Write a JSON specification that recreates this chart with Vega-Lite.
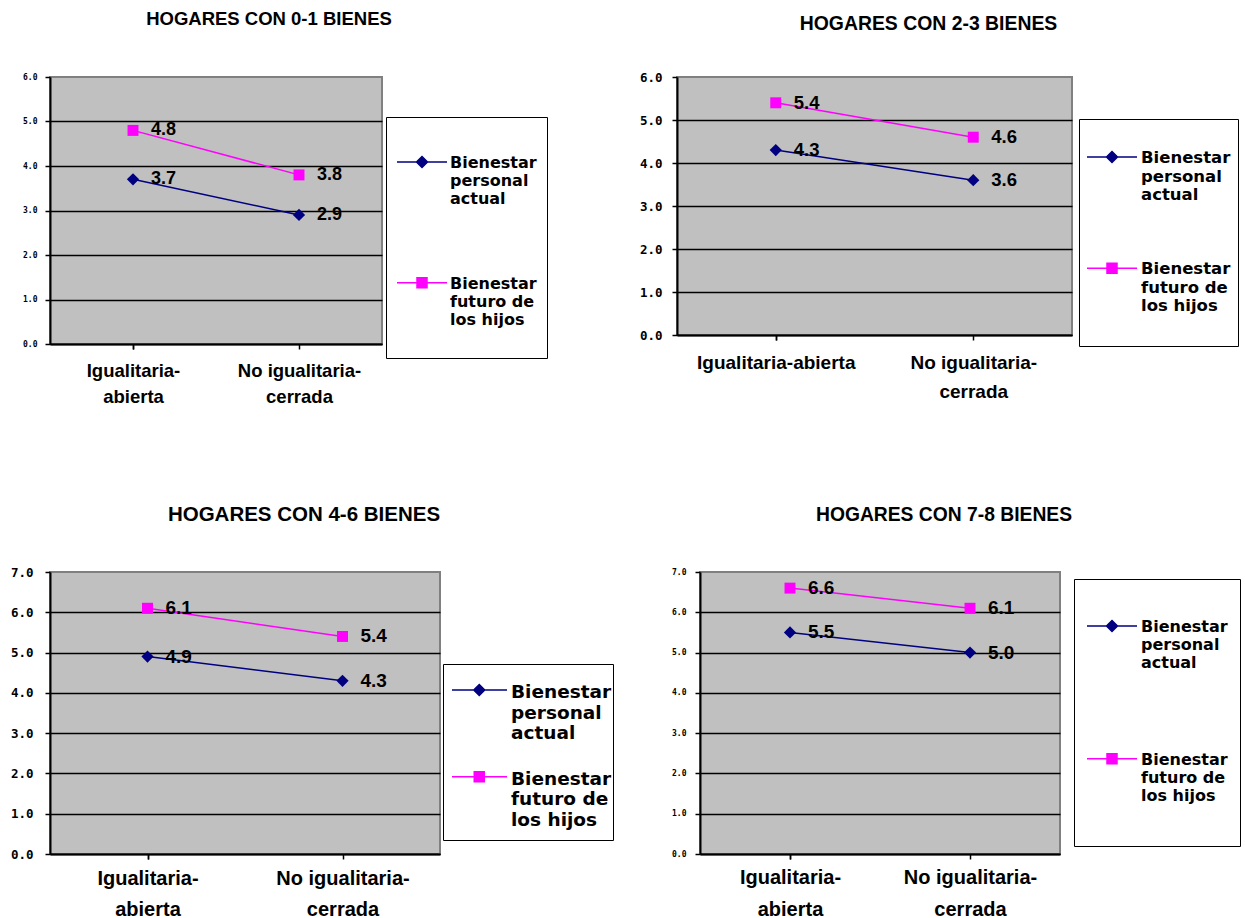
{
  "$schema": "https://vega.github.io/schema/vega-lite/v6.json",
  "background": "white",
  "padding": {"left": 0, "top": 8, "right": 0, "bottom": 0},
  "config": {
    "font": "Liberation Sans",
    "view": {"fill": "#C0C0C0", "stroke": "#808080", "strokeWidth": 2},
    "axis": {"domainColor": "black", "domainWidth": 2, "tickColor": "black", "tickWidth": 1.5, "tickSize": 5, "labelColor": "black", "labelFontWeight": "bold", "gridColor": "black", "gridWidth": 1.5},
    "axisX": {"grid": false, "labelFont": "Liberation Sans", "labelAngle": 0, "labelLimit": 400, "tickBand": "extent"},
    "axisY": {"grid": true, "labelFont": "DejaVu Sans Mono"},
    "title": {"font": "Liberation Sans", "fontSize": 18.5, "fontWeight": "bold", "color": "black", "anchor": "middle", "frame": "group"},
    "legend": {"orient": "none", "strokeColor": "black", "fillColor": "white", "padding": 10, "labelFont": "DejaVu Sans", "labelFontWeight": "bold", "labelColor": "black", "labelBaseline": "top", "labelLimit": 400, "symbolSize": 2500}
  },
  "data": {"values": [
    {"panel": 1, "grupo": "Igualitaria-abierta", "serie": "Bienestar personal actual", "valor": 3.7},
    {"panel": 1, "grupo": "No igualitaria-cerrada", "serie": "Bienestar personal actual", "valor": 2.9},
    {"panel": 1, "grupo": "Igualitaria-abierta", "serie": "Bienestar futuro de los hijos", "valor": 4.8},
    {"panel": 1, "grupo": "No igualitaria-cerrada", "serie": "Bienestar futuro de los hijos", "valor": 3.8},
    {"panel": 2, "grupo": "Igualitaria-abierta", "serie": "Bienestar personal actual", "valor": 4.3},
    {"panel": 2, "grupo": "No igualitaria-cerrada", "serie": "Bienestar personal actual", "valor": 3.6},
    {"panel": 2, "grupo": "Igualitaria-abierta", "serie": "Bienestar futuro de los hijos", "valor": 5.4},
    {"panel": 2, "grupo": "No igualitaria-cerrada", "serie": "Bienestar futuro de los hijos", "valor": 4.6},
    {"panel": 3, "grupo": "Igualitaria-abierta", "serie": "Bienestar personal actual", "valor": 4.9},
    {"panel": 3, "grupo": "No igualitaria-cerrada", "serie": "Bienestar personal actual", "valor": 4.3},
    {"panel": 3, "grupo": "Igualitaria-abierta", "serie": "Bienestar futuro de los hijos", "valor": 6.1},
    {"panel": 3, "grupo": "No igualitaria-cerrada", "serie": "Bienestar futuro de los hijos", "valor": 5.4},
    {"panel": 4, "grupo": "Igualitaria-abierta", "serie": "Bienestar personal actual", "valor": 5.5},
    {"panel": 4, "grupo": "No igualitaria-cerrada", "serie": "Bienestar personal actual", "valor": 5.0},
    {"panel": 4, "grupo": "Igualitaria-abierta", "serie": "Bienestar futuro de los hijos", "valor": 6.6},
    {"panel": 4, "grupo": "No igualitaria-cerrada", "serie": "Bienestar futuro de los hijos", "valor": 6.1}
  ]},
  "columns": 1,
  "align": "none",
  "spacing": 97,
  "resolve": {"scale": {"color": "independent"}, "legend": {"color": "independent"}},
  "concat": [
    {
      "columns": 2,
      "align": "none",
      "spacing": 88,
      "resolve": {"scale": {"color": "independent"}, "legend": {"color": "independent"}},
      "concat": [
        {
          "width": 332, "height": 267,
          "title": {"text": "HOGARES CON 0-1 BIENES", "dx": 53, "offset": 45},
          "transform": [{"filter": "datum.panel == 1"}],
          "encoding": {
            "x": {"field": "grupo", "type": "nominal", "sort": ["Igualitaria-abierta", "No igualitaria-cerrada"], "scale": {"paddingInner": 0, "paddingOuter": 0},
              "axis": {"title": null, "labelFontSize": 18.5, "labelLineHeight": 26, "labelPadding": 12, "labelExpr": "!datum.label ? '' : [split(datum.label, '-')[0] + '-', split(datum.label, '-')[1]]"}},
            "y": {"field": "valor", "type": "quantitative", "scale": {"domain": [0, 6]},
              "axis": {"title": null, "values": [0, 1, 2, 3, 4, 5, 6], "format": ".1f", "labelFontSize": 8, "labelPadding": 8, "minExtent": 49, "gridOpacity": {"condition": {"test": "datum.value >= 6", "value": 0}, "value": 1}}},
            "color": {"field": "serie", "type": "nominal", "scale": {"domain": ["Bienestar personal actual", "Bienestar futuro de los hijos"], "range": ["#000080", "#FF00FF"]},
              "legend": {"legendX": 336, "legendY": 40, "padding": 10, "title": null, "labelFontSize": 16, "labelLineHeight": 18.5, "rowPadding": 40.8, "labelOffset": 2,
                "encode": {
                  "symbols": {"update": {
                    "shape": {"signal": "datum.value == 'Bienestar personal actual' ? 'M-1,0H1M0,-0.22L0.22,0L0,0.22L-0.22,0Z' : 'M0,2.45M-1,0H1M-0.2,-0.2H0.2V0.2H-0.2Z'"},
                    "fill": {"signal": "datum.value == 'Bienestar personal actual' ? '#000080' : '#FF00FF'"},
                    "stroke": {"signal": "datum.value == 'Bienestar personal actual' ? '#000080' : '#FF00FF'"},
                    "strokeWidth": {"value": 1.5},
                    "opacity": {"value": 1},
                    "y": {"value": 35}
                  }},
                  "labels": {"update": {
                    "text": {"signal": "datum.label == 'Bienestar personal actual' ? ['Bienestar', 'personal', 'actual'] : ['Bienestar', 'futuro de', 'los hijos']"},
                    "y": {"value": 35},
                    "dy": {"value": -7}
                  }}
                }}}
          },
          "layer": [
            {"mark": {"type": "line", "strokeWidth": 1.5}},
            {"transform": [{"filter": "datum.serie == 'Bienestar personal actual'"}], "mark": {"type": "point", "shape": "diamond", "filled": true, "size": 150, "opacity": 1}},
            {"transform": [{"filter": "datum.serie == 'Bienestar futuro de los hijos'"}], "mark": {"type": "point", "shape": "square", "filled": true, "size": 120, "opacity": 1}},
            {"mark": {"type": "text", "align": "left", "baseline": "middle", "dx": 18, "fontSize": 18, "fontWeight": "bold", "font": "Liberation Sans"},
              "encoding": {"text": {"field": "valor", "type": "quantitative", "format": ".1f"}, "color": {"value": "black"}}}
          ]
        },
        {
          "width": 395, "height": 258,
          "title": {"text": "HOGARES CON 2-3 BIENES", "dx": 54, "offset": 36.5, "fontSize": 19.4},
          "transform": [{"filter": "datum.panel == 2"}],
          "encoding": {
            "x": {"field": "grupo", "type": "nominal", "sort": ["Igualitaria-abierta", "No igualitaria-cerrada"], "scale": {"paddingInner": 0, "paddingOuter": 0},
              "axis": {"title": null, "labelFontSize": 19, "labelLineHeight": 29, "labelPadding": 13, "labelExpr": "!datum.label ? '' : (datum.label == 'Igualitaria-abierta' ? 'Igualitaria-abierta' : ['No igualitaria-', 'cerrada'])"}},
            "y": {"field": "valor", "type": "quantitative", "scale": {"domain": [0, 6]},
              "axis": {"title": null, "values": [0, 1, 2, 3, 4, 5, 6], "format": ".1f", "labelFontSize": 12.5, "labelPadding": 10, "minExtent": 39, "gridOpacity": {"condition": {"test": "datum.value >= 6", "value": 0}, "value": 1}}},
            "color": {"field": "serie", "type": "nominal", "scale": {"domain": ["Bienestar personal actual", "Bienestar futuro de los hijos"], "range": ["#000080", "#FF00FF"]},
              "legend": {"legendX": 402, "legendY": 42, "padding": 7, "title": null, "labelFontSize": 16.5, "labelLineHeight": 20.5, "rowPadding": 33.2, "labelOffset": 3,
                "encode": {
                  "symbols": {"update": {
                    "shape": {"signal": "datum.value == 'Bienestar personal actual' ? 'M-1,0H1M0,-0.22L0.22,0L0,0.22L-0.22,0Z' : 'M0,2.68M-1,0H1M-0.2,-0.2H0.2V0.2H-0.2Z'"},
                    "fill": {"signal": "datum.value == 'Bienestar personal actual' ? '#000080' : '#FF00FF'"},
                    "stroke": {"signal": "datum.value == 'Bienestar personal actual' ? '#000080' : '#FF00FF'"},
                    "strokeWidth": {"value": 1.5},
                    "opacity": {"value": 1},
                    "y": {"value": 31}
                  }},
                  "labels": {"update": {
                    "text": {"signal": "datum.label == 'Bienestar personal actual' ? ['Bienestar', 'personal', 'actual'] : ['Bienestar', 'futuro de', 'los hijos']"},
                    "y": {"value": 31},
                    "dy": {"value": -7}
                  }}
                }}}
          },
          "layer": [
            {"mark": {"type": "line", "strokeWidth": 1.5}},
            {"transform": [{"filter": "datum.serie == 'Bienestar personal actual'"}], "mark": {"type": "point", "shape": "diamond", "filled": true, "size": 150, "opacity": 1}},
            {"transform": [{"filter": "datum.serie == 'Bienestar futuro de los hijos'"}], "mark": {"type": "point", "shape": "square", "filled": true, "size": 120, "opacity": 1}},
            {"mark": {"type": "text", "align": "left", "baseline": "middle", "dx": 18, "fontSize": 18.5, "fontWeight": "bold", "font": "Liberation Sans"},
              "encoding": {"text": {"field": "valor", "type": "quantitative", "format": ".1f"}, "color": {"value": "black"}}}
          ]
        }
      ]
    },
    {
      "columns": 2,
      "align": "none",
      "spacing": 52,
      "resolve": {"scale": {"color": "independent"}, "legend": {"color": "independent"}},
      "concat": [
        {
          "width": 390, "height": 282,
          "title": {"text": "HOGARES CON 4-6 BIENES", "dx": 59, "offset": 40.5, "fontSize": 20.5},
          "transform": [{"filter": "datum.panel == 3"}],
          "encoding": {
            "x": {"field": "grupo", "type": "nominal", "sort": ["Igualitaria-abierta", "No igualitaria-cerrada"], "scale": {"paddingInner": 0, "paddingOuter": 0},
              "axis": {"title": null, "labelFontSize": 20, "labelLineHeight": 31, "labelPadding": 9, "labelExpr": "!datum.label ? '' : [split(datum.label, '-')[0] + '-', split(datum.label, '-')[1]]"}},
            "y": {"field": "valor", "type": "quantitative", "scale": {"domain": [0, 7]},
              "axis": {"title": null, "values": [0, 1, 2, 3, 4, 5, 6, 7], "format": ".1f", "labelFontSize": 12.5, "labelPadding": 12, "minExtent": 49, "gridOpacity": {"condition": {"test": "datum.value >= 7", "value": 0}, "value": 1}}},
            "color": {"field": "serie", "type": "nominal", "scale": {"domain": ["Bienestar personal actual", "Bienestar futuro de los hijos"], "range": ["#000080", "#FF00FF"]},
              "legend": {"legendX": 393, "legendY": 92, "padding": 1, "title": null, "labelFontSize": 18.5, "labelLineHeight": 19.5, "rowPadding": 8.8, "labelOffset": 15,
                "encode": {
                  "symbols": {"update": {
                    "shape": {"signal": "datum.value == 'Bienestar personal actual' ? 'M-1,0M-0.72,0H1.48M0.37,-0.22L0.59,0L0.37,0.22L0.15,0Z' : 'M0,2.36M-1,0M-0.72,0H1.48M0.17,-0.2H0.57V0.2H0.17Z'"},
                    "fill": {"signal": "datum.value == 'Bienestar personal actual' ? '#000080' : '#FF00FF'"},
                    "stroke": {"signal": "datum.value == 'Bienestar personal actual' ? '#000080' : '#FF00FF'"},
                    "strokeWidth": {"value": 1.5},
                    "opacity": {"value": 1},
                    "y": {"value": 25}
                  }},
                  "labels": {"update": {
                    "text": {"signal": "datum.label == 'Bienestar personal actual' ? ['Bienestar', 'personal', 'actual'] : ['Bienestar', 'futuro de', 'los hijos']"},
                    "y": {"value": 25},
                    "dy": {"value": -7}
                  }}
                }}}
          },
          "layer": [
            {"mark": {"type": "line", "strokeWidth": 1.5}},
            {"transform": [{"filter": "datum.serie == 'Bienestar personal actual'"}], "mark": {"type": "point", "shape": "diamond", "filled": true, "size": 150, "opacity": 1}},
            {"transform": [{"filter": "datum.serie == 'Bienestar futuro de los hijos'"}], "mark": {"type": "point", "shape": "square", "filled": true, "size": 120, "opacity": 1}},
            {"mark": {"type": "text", "align": "left", "baseline": "middle", "dx": 18, "fontSize": 19, "fontWeight": "bold", "font": "Liberation Sans"},
              "encoding": {"text": {"field": "valor", "type": "quantitative", "format": ".1f"}, "color": {"value": "black"}}}
          ]
        },
        {
          "width": 360, "height": 282,
          "title": {"text": "HOGARES CON 7-8 BIENES", "dx": 64, "offset": 43, "fontSize": 19.3},
          "transform": [{"filter": "datum.panel == 4"}],
          "encoding": {
            "x": {"field": "grupo", "type": "nominal", "sort": ["Igualitaria-abierta", "No igualitaria-cerrada"], "scale": {"paddingInner": 0, "paddingOuter": 0},
              "axis": {"title": null, "labelFontSize": 20, "labelLineHeight": 32, "labelPadding": 8, "labelExpr": "!datum.label ? '' : [split(datum.label, '-')[0] + '-', split(datum.label, '-')[1]]"}},
            "y": {"field": "valor", "type": "quantitative", "scale": {"domain": [0, 7]},
              "axis": {"title": null, "values": [0, 1, 2, 3, 4, 5, 6, 7], "format": ".1f", "labelFontSize": 8, "labelPadding": 9, "minExtent": 32, "gridOpacity": {"condition": {"test": "datum.value >= 7", "value": 0}, "value": 1}}},
            "color": {"field": "serie", "type": "nominal", "scale": {"domain": ["Bienestar personal actual", "Bienestar futuro de los hijos"], "range": ["#000080", "#FF00FF"]},
              "legend": {"legendX": 374, "legendY": 7, "padding": 12, "title": null, "labelFontSize": 16, "labelLineHeight": 19, "rowPadding": 52.8, "labelOffset": 3,
                "encode": {
                  "symbols": {"update": {
                    "shape": {"signal": "datum.value == 'Bienestar personal actual' ? 'M-1,0H1M0,-0.22L0.22,0L0,0.22L-0.22,0Z' : 'M0,2.88M-1,0H1M-0.2,-0.2H0.2V0.2H-0.2Z'"},
                    "fill": {"signal": "datum.value == 'Bienestar personal actual' ? '#000080' : '#FF00FF'"},
                    "stroke": {"signal": "datum.value == 'Bienestar personal actual' ? '#000080' : '#FF00FF'"},
                    "strokeWidth": {"value": 1.5},
                    "opacity": {"value": 1},
                    "y": {"value": 35}
                  }},
                  "labels": {"update": {
                    "text": {"signal": "datum.label == 'Bienestar personal actual' ? ['Bienestar', 'personal', 'actual'] : ['Bienestar', 'futuro de', 'los hijos']"},
                    "y": {"value": 35},
                    "dy": {"value": -7}
                  }}
                }}}
          },
          "layer": [
            {"mark": {"type": "line", "strokeWidth": 1.5}},
            {"transform": [{"filter": "datum.serie == 'Bienestar personal actual'"}], "mark": {"type": "point", "shape": "diamond", "filled": true, "size": 150, "opacity": 1}},
            {"transform": [{"filter": "datum.serie == 'Bienestar futuro de los hijos'"}], "mark": {"type": "point", "shape": "square", "filled": true, "size": 120, "opacity": 1}},
            {"mark": {"type": "text", "align": "left", "baseline": "middle", "dx": 18, "fontSize": 19, "fontWeight": "bold", "font": "Liberation Sans"},
              "encoding": {"text": {"field": "valor", "type": "quantitative", "format": ".1f"}, "color": {"value": "black"}}}
          ]
        }
      ]
    }
  ]
}
